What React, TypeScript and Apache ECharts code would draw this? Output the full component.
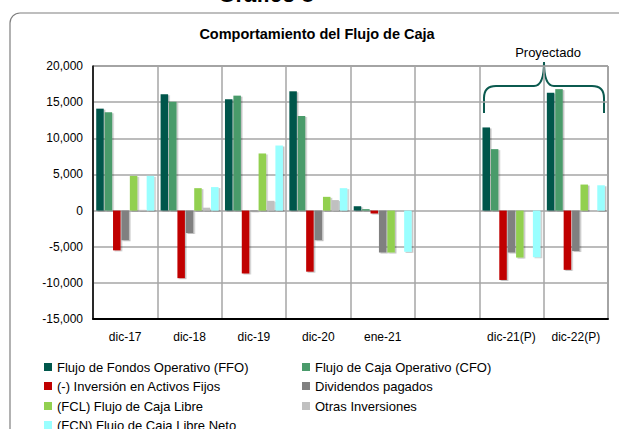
import React, { useEffect, useRef } from "react";
import * as echarts from "echarts";

const categories = ["dic-17", "dic-18", "dic-19", "dic-20", "ene-21", "", "dic-21(P)", "dic-22(P)"];
const ffo = [14100, 16100, 15400, 16500, 600, null, 11500, 16300];
const cfo = [13600, 15050, 15900, 13100, 200, null, 8500, 16800];
const inversion = [-5500, -9350, -8700, -8450, -400, null, -9600, -8200];
const dividendos = [-4100, -3100, -100, -4100, -5800, null, -5800, -5600];
const fcl = [4800, 3100, 7900, 1900, -5800, null, -6500, 3600];
const otras = [100, 400, 1350, 1450, 0, null, 0, 0];
const fcn = [4800, 3250, 9000, 3100, -5700, null, -6450, 3500];
const yTicks = { min: -15000, max: 20000, interval: 5000 };

const names = [
  "Flujo de Fondos Operativo (FFO)",
  "Flujo de Caja Operativo (CFO)",
  "(-) Inversión en Activos Fijos",
  "Dividendos pagados",
  "(FCL) Flujo de Caja Libre",
  "Otras Inversiones",
  "(FCN) Flujo de Caja Libre Neto",
];
const colors = ["#00574b", "#4a9b6b", "#c00000", "#808080", "#92d050", "#c0c0c0", "#99ffff"];
const seriesData = [ffo, cfo, inversion, dividendos, fcl, otras, fcn];

const FONT = "Liberation Sans";

const bracePath =
  "M484,113 L484,98 Q484,86 496,86 L534,86 Q544,86 544,62 Q544,86 554,86 L592,86 Q604,86 604,98 L604,113";

const legendPos = [
  [44, 367],
  [302, 367],
  [44, 386],
  [302, 386],
  [44, 406],
  [302, 406],
  [44, 425],
];

export default function App() {
  const ref = useRef<HTMLDivElement>(null);
  useEffect(() => {
    if (!ref.current) return;
    try {
      echarts.graphic.registerShape("brace", echarts.graphic.extendPath(bracePath, {}));
    } catch (e) {}
    const chart = echarts.init(ref.current, undefined, { renderer: "svg" });
    chart.setOption({
      animation: false,
      backgroundColor: "#ffffff",
      textStyle: { fontFamily: FONT },
      title: {
        text: "Comportamiento del Flujo de Caja",
        left: 312,
        top: 21,
        textAlign: "center",
        textStyle: { fontFamily: FONT, fontSize: 14.5, fontWeight: "bold", color: "#000" },
      },
      grid: {
        left: 93,
        right: 11,
        top: 66,
        bottom: 110,
        show: true,
        borderColor: "#404040",
        borderWidth: 1,
      },
      legend: names.map((n, i) => ({
        left: legendPos[i][0],
        top: legendPos[i][1] - 7,
        itemWidth: 8,
        itemHeight: 8,
        itemTextGap: 3,
        padding: 0,
        icon: "rect",
        data: [n],
        textStyle: { fontFamily: FONT, fontSize: 13, color: "#000", lineHeight: 14 },
      })),
      xAxis: {
        type: "category",
        data: categories,
        axisLine: { onZero: false, lineStyle: { color: "#000", width: 2 } },
        axisTick: { show: false },
        axisLabel: { fontFamily: FONT, fontSize: 12, color: "#000", margin: 12 },
        splitLine: { show: true, lineStyle: { color: "#a6a6a6", width: 1.5 } },
      },
      yAxis: {
        type: "value",
        min: yTicks.min,
        max: yTicks.max,
        interval: yTicks.interval,
        axisLine: { show: true, lineStyle: { color: "#000", width: 1.5 } },
        axisTick: { show: false },
        axisLabel: {
          fontFamily: FONT,
          fontSize: 12,
          color: "#000",
          margin: 10,
          formatter: (v: number) => v.toLocaleString("en-US"),
        },
        splitLine: { show: true, lineStyle: { color: "#a6a6a6", width: 1.5 } },
      },
      series: seriesData.map((d, i) => ({
        type: "bar",
        name: names[i],
        data: d,
        barGap: "12%",
        barCategoryGap: "10%",
        itemStyle: {
          color: colors[i],
          shadowColor: "rgba(0,0,0,0.25)",
          shadowOffsetX: 1.5,
          shadowOffsetY: 1,
          shadowBlur: 1.5,
        },
      })),
      graphic: [
        {
          type: "rect",
          shape: { x: 10, y: 13, width: 640, height: 500, r: 10 },
          style: { fill: "none", stroke: "#7f7f7f", lineWidth: 1.2 },
          z: -1,
        },
        {
          type: "text",
          x: 266,
          y: 5,
          style: {
            text: "Gráfico 8",
            fontFamily: FONT,
            fontSize: 22,
            fontWeight: "bold",
            fill: "#000",
            textAlign: "center",
            textVerticalAlign: "bottom",
          },
        },
        {
          type: "text",
          x: 548,
          y: 52,
          style: {
            text: "Proyectado",
            fontFamily: FONT,
            fontSize: 13,
            fill: "#000",
            textAlign: "center",
            textVerticalAlign: "middle",
          },
        },
        {
          type: "brace",
          x: 0,
          y: 0,
          style: { fill: "none", stroke: "#0b5a4f", lineWidth: 2 },
        },
      ],
    });
    return () => chart.dispose();
  }, []);
  return (
    <div
      ref={ref}
      style={{ position: "absolute", left: 0, top: 0, width: 619, height: 429 }}
    />
  );
}
